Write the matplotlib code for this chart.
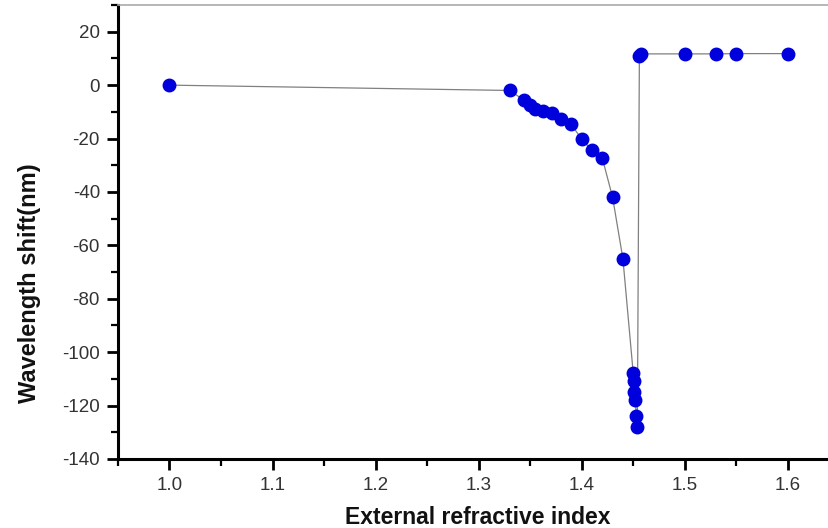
import matplotlib.pyplot as plt
from matplotlib.ticker import MultipleLocator

# external refractive index vs wavelength shift
ri = [1.0, 1.33, 1.344, 1.35, 1.355, 1.362, 1.371, 1.38, 1.39, 1.40, 1.41,
      1.42, 1.43, 1.44, 1.45, 1.451, 1.451, 1.452, 1.453, 1.454,
      1.456, 1.458, 1.50, 1.53, 1.55, 1.60]
shift = [0, -2, -5.6, -7.6, -8.9, -9.7, -10.6, -12.5, -14.7, -20.3, -24.3,
         -27.3, -42, -65, -107.8, -110.9, -114.8, -117.8, -124, -128,
         11, 11.7, 11.7, 11.7, 11.8, 11.8]

plt.rcParams['font.family'] = ['Liberation Sans', 'DejaVu Sans']
plt.rcParams['axes.unicode_minus'] = False

fig = plt.figure(figsize=(8.29, 5.28), dpi=100)
ax = fig.add_axes([0.1423, 0.1307, 0.8577, 0.8598])

ax.plot(ri, shift, color="#808080", lw=0.9, zorder=1)
ax.plot(ri, shift, "o", color="#0000dd", ms=9, mec="#0000dd", zorder=2, linestyle="none")

ax.set_xlim(0.95, 1.64)
ax.set_ylim(-140, 30)
ax.xaxis.set_major_locator(MultipleLocator(0.1))
ax.xaxis.set_minor_locator(MultipleLocator(0.05))
ax.yaxis.set_major_locator(MultipleLocator(20))
ax.yaxis.set_minor_locator(MultipleLocator(10))
ax.set_xticks([1.0, 1.1, 1.2, 1.3, 1.4, 1.5, 1.6])
ax.set_xticklabels(["1.0", "1.1", "1.2", "1.3", "1.4", "1.5", "1.6"])

ax.tick_params(which="major", direction="out", length=8, width=2, labelsize=13.5, pad=5, colors="black")
ax.tick_params(which="minor", direction="out", length=5, width=1.6)
ax.tick_params(axis="both", labelcolor="#333333")

for s in ["left", "bottom"]:
    ax.spines[s].set_linewidth(2.2)
ax.spines["right"].set_visible(False)
ax.spines["top"].set_color("#aaaaaa")
ax.spines["top"].set_linewidth(1.2)

ax.set_xlabel("External refractive index", fontsize=16.5, fontweight="bold", color="#111111")
ax.set_ylabel("Wavelength shift(nm)", fontsize=17, fontweight="bold", color="#111111")
ax.xaxis.set_label_coords(0.506, -0.103)
ax.yaxis.set_label_coords(-0.108, 0.387)

fig.savefig("out.png", dpi=100)
